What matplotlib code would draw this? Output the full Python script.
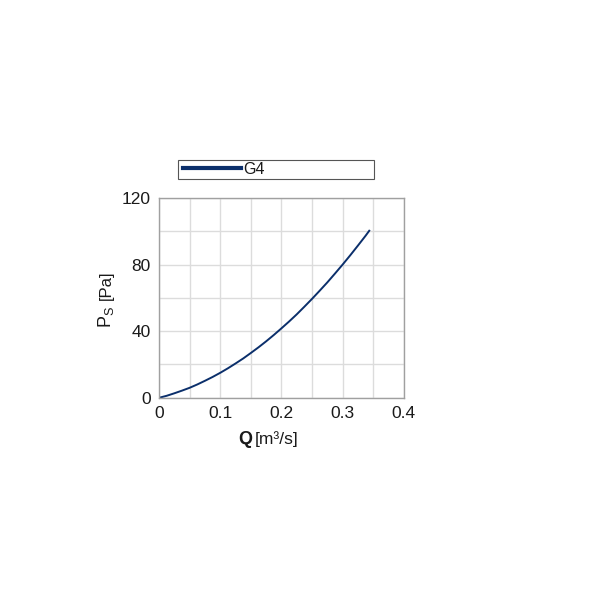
import matplotlib
matplotlib.use("Agg")
import matplotlib.pyplot as plt
from matplotlib.lines import Line2D
from matplotlib.patches import Rectangle
from matplotlib.offsetbox import TextArea, HPacker, AnnotationBbox

plt.rcParams['font.family'] = ['Liberation Sans', 'DejaVu Sans']
plt.rcParams['mathtext.fontset'] = 'custom'
plt.rcParams['mathtext.rm'] = 'Liberation Sans'
plt.rcParams['mathtext.it'] = 'Liberation Sans'
plt.rcParams['mathtext.bf'] = 'Liberation Sans:bold'

# Data
flow_q = [0.0, 0.0125, 0.025, 0.0375, 0.05, 0.0625, 0.075, 0.0875, 0.1,
          0.1125, 0.125, 0.1375, 0.15, 0.1625, 0.175, 0.1875, 0.2,
          0.2125, 0.225, 0.2375, 0.25, 0.2625, 0.275, 0.2875, 0.3,
          0.3125, 0.325, 0.3375, 0.3445]
pressure_ps = [0.0, 1.2, 2.7, 4.3, 6.0, 8.0, 10.2, 12.5, 15.0,
               17.7, 20.6, 23.6, 26.9, 30.3, 33.9, 37.7, 41.7,
               45.8, 50.1, 54.7, 59.4, 64.3, 69.3, 74.6, 80.0,
               85.6, 91.4, 97.3, 100.8]
series_name = "G4"
x_ticks = [0, 0.1, 0.2, 0.3, 0.4]
x_tick_labels = ["0", "0.1", "0.2", "0.3", "0.4"]
y_ticks = [0, 40, 80, 120]
y_tick_labels = ["0", "40", "80", "120"]

line_color = "#0b2f6b"
text_color = "#1a1a1a"

fig = plt.figure(figsize=(6, 6), dpi=100)
ax = fig.add_axes([0.265, 0.337, 0.408, 0.333])
ax.plot(flow_q, pressure_ps, color=line_color, lw=1.4, solid_capstyle='butt')
ax.set_xlim(0, 0.4)
ax.set_ylim(0, 120)
ax.set_xticks(x_ticks)
ax.set_xticklabels(x_tick_labels)
ax.set_xticks([0.05, 0.15, 0.25, 0.35], minor=True)
ax.set_yticks(y_ticks)
ax.set_yticklabels(y_tick_labels)
ax.set_yticks([20, 60, 100], minor=True)
ax.tick_params(which='both', length=0)
ax.tick_params(labelsize=12.5, colors=text_color, pad=6)
ax.grid(True, which='both', color="#dcdcdc", lw=1)
ax.set_axisbelow(True)
for s in ax.spines.values():
    s.set_color("#a0a0a0")
    s.set_linewidth(1)

# X label: larger "Q" followed by unit
xl = HPacker(children=[
    TextArea("Q", textprops=dict(fontsize=13, fontweight='bold', color=text_color)),
    TextArea("[m³/s]", textprops=dict(fontsize=12.5, color=text_color)),
], align="baseline", pad=0, sep=2)
ab = AnnotationBbox(xl, (0.447, -0.21), xycoords='axes fraction',
                    frameon=False, box_alignment=(0.5, 0.5))
ax.add_artist(ab)

# Y label: larger "P_S" followed by unit, rotated
ax.text(-0.218, 0.35, r"$\mathregular{P_S}$", rotation=90, fontsize=13,
        color=text_color, transform=ax.transAxes, ha='center', va='bottom')
ax.text(-0.216, 0.49, "[Pa]", rotation=90, fontsize=12,
        color=text_color, transform=ax.transAxes, ha='center', va='bottom')

# Legend with a separate frame box
handle = Line2D([], [], color=line_color, lw=3)
leg = fig.legend([handle], [series_name], loc='center left',
                 bbox_to_anchor=(183 / 600, 1 - 169.5 / 600),
                 frameon=False, handlelength=3.6, handletextpad=0.2,
                 borderpad=0, borderaxespad=0, fontsize=11.5)
for t in leg.get_texts():
    t.set_color(text_color)
fig.patches.append(Rectangle((178 / 600, 1 - 179 / 600), 196 / 600, 19 / 600,
                             transform=fig.transFigure, fill=False,
                             edgecolor="#555555", lw=0.8))

fig.savefig("out.png", dpi=100)
